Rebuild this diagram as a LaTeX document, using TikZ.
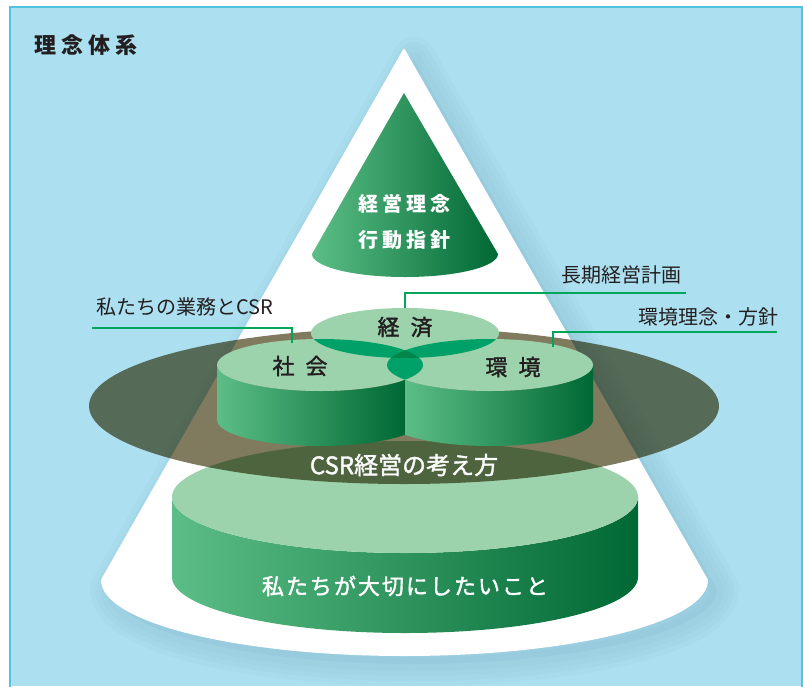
\documentclass[tikz,border=0pt]{standalone}
\usepackage{fontspec}
\newfontfamily\jp{Noto Sans CJK JP}
\newfontfamily\jpm{Noto Sans CJK JP}[FakeBold=1.6]
\usetikzlibrary{calc}

\definecolor{bgblue}{RGB}{172,223,239}
\definecolor{frame}{RGB}{78,196,224}
\definecolor{shad}{RGB}{95,150,175}
\definecolor{gL}{RGB}{92,190,134}
\definecolor{gM}{RGB}{0,168,90}
\definecolor{gD}{RGB}{0,104,52}
\definecolor{lightg}{RGB}{156,211,172}
\definecolor{ovtwo}{RGB}{0,161,104}
\definecolor{ovthree}{RGB}{0,133,75}
\definecolor{olive}{RGB}{128,122,94}
\definecolor{leadg}{RGB}{0,166,90}
\definecolor{ink}{RGB}{35,31,32}

% outline of the large white cone
\newcommand\whitecone[1]{\path[#1] (404,50) -- (102,580)
  arc[start angle=180,end angle=0,x radius=302.5,y radius=75] -- cycle;}

\begin{document}
\begin{tikzpicture}[x=1pt,y=-1pt,
  lbl/.style={font=\jp\fontsize{20}{20}\selectfont, text=ink, inner sep=0pt},
  disc/.style={font=\jpm\fontsize{22}{22}\selectfont, text=ink, inner sep=0pt},
  ontext/.style={font=\jp\bfseries\fontsize{#1}{#1}\selectfont, text=white, inner sep=0pt},
  lead/.style={draw=leadg, line width=1.1pt},
  side/.style={left color=gL, middle color=gM, right color=gD}]
\useasboundingbox (0,0) rectangle (803,686);

% background panel
\fill[white] (0,0) rectangle (803,686);
\fill[bgblue] (10,7) rectangle (803,686);
\draw[frame, line width=2pt] (10,690) -- (10,7) -- (802,7) -- (802,690);

\node[font=\jp\bfseries\fontsize{22}{22}\selectfont, text=ink, inner sep=0pt]
  (title) at (86,45) {理\kern5pt 念\kern5pt 体\kern5pt 系};

% soft shadow of the white cone
\foreach \w in {44,34,24,14} {
  \whitecone{draw=shad, line width=\w pt, line join=round, opacity=0.045, shift={(10,9)}}
}
\whitecone{fill=shad, opacity=0.1, shift={(10,9)}}
\whitecone{fill=white, draw=white, line width=2pt, line join=round}

% green cone at the top
\shade[side] (404,93) -- (312,254)
  arc[start angle=180,end angle=0,x radius=93,y radius=23] -- cycle;
\node[ontext=20] (rinen) at (404,204) {経\kern4pt 営\kern4pt 理\kern4pt 念};
\node[ontext=20] (koudou) at (404,240) {行\kern4pt 動\kern4pt 指\kern4pt 針};

% base cylinder
\shade[side] (172,497) -- (172,577)
  arc[start angle=180,end angle=0,x radius=233,y radius=56] -- (638,497)
  arc[start angle=0,end angle=180,x radius=233,y radius=56] -- cycle;
\fill[lightg] (405,497) ellipse[x radius=233,y radius=56];
\node[font=\jpm\fontsize{22}{22}\selectfont, text=white, inner sep=0pt] (taisetsu) at (405,586)
  {私\kern2pt た\kern2pt ち\kern2pt が\kern2pt 大\kern2pt 切\kern2pt に\kern2pt し\kern2pt た\kern2pt い\kern2pt こ\kern2pt と};

% translucent disc of the CSR layer
\begin{scope}[blend mode=multiply]
  \fill[olive] (404,406) ellipse[x radius=315,y radius=78];
\end{scope}

% sides of the two front cylinders
\begin{scope}
  \clip (217,365) -- (217,420)
    arc[start angle=180,end angle=0,x radius=103,y radius=26] -- (423,365)
    arc[start angle=0,end angle=180,x radius=103,y radius=26] -- cycle;
  \shade[side] (217,330) rectangle (405,460);
\end{scope}
\begin{scope}
  \clip (387,365) -- (387,420)
    arc[start angle=180,end angle=0,x radius=103,y radius=26] -- (593,365)
    arc[start angle=0,end angle=180,x radius=103,y radius=26] -- cycle;
  \shade[side] (405,330) rectangle (593,460);
\end{scope}

% tops of the three circles and their overlaps
\fill[lightg] (405,333) ellipse[x radius=94,y radius=25];
\fill[lightg] (320,365) ellipse[x radius=103,y radius=26];
\fill[lightg] (490,365) ellipse[x radius=103,y radius=26];
\begin{scope}
  \clip (320,365) ellipse[x radius=103,y radius=26];
  \fill[ovtwo] (490,365) ellipse[x radius=103,y radius=26];
\end{scope}
\begin{scope}
  \clip (405,333) ellipse[x radius=94,y radius=25];
  \fill[ovtwo] (320,365) ellipse[x radius=103,y radius=26];
  \fill[ovtwo] (490,365) ellipse[x radius=103,y radius=26];
\end{scope}
\begin{scope}
  \clip (405,333) ellipse[x radius=94,y radius=25];
  \clip (320,365) ellipse[x radius=103,y radius=26];
  \fill[ovthree] (490,365) ellipse[x radius=103,y radius=26];
\end{scope}

\node[disc] (keizai) at (405,327) {経\kern11pt 済};
\node[disc] (shakai) at (300,366) {社\kern11pt 会};
\node[disc] (kankyo) at (513,367) {環\kern11pt 境};

\node[font=\jpm\fontsize{24}{24}\selectfont, text=white!96!gray, inner sep=0pt] (csr) at (404,465) {CSR経営の考え方};

% callout labels with leader lines
\node[lbl] (choki) at (621,275) {長期経営計画};
\node[lbl] (gyomu) at (185,307) {私たちの業務とCSR};
\node[lbl] (hoshin) at (708,317) {環境理念・方針};

\coordinate (keizaiTop) at (405,308);
\coordinate (chokiEnd) at (686,293);
\coordinate (shakaiTop) at (292,343);
\coordinate (gyomuEnd) at (92,328);
\coordinate (kankyoTop) at (553,347);
\coordinate (hoshinEnd) at (777,332);

\draw[lead] (keizaiTop) |- (chokiEnd);
\draw[lead] (shakaiTop) |- (gyomuEnd);
\draw[lead] (kankyoTop) |- (hoshinEnd);
\end{tikzpicture}
\end{document}
